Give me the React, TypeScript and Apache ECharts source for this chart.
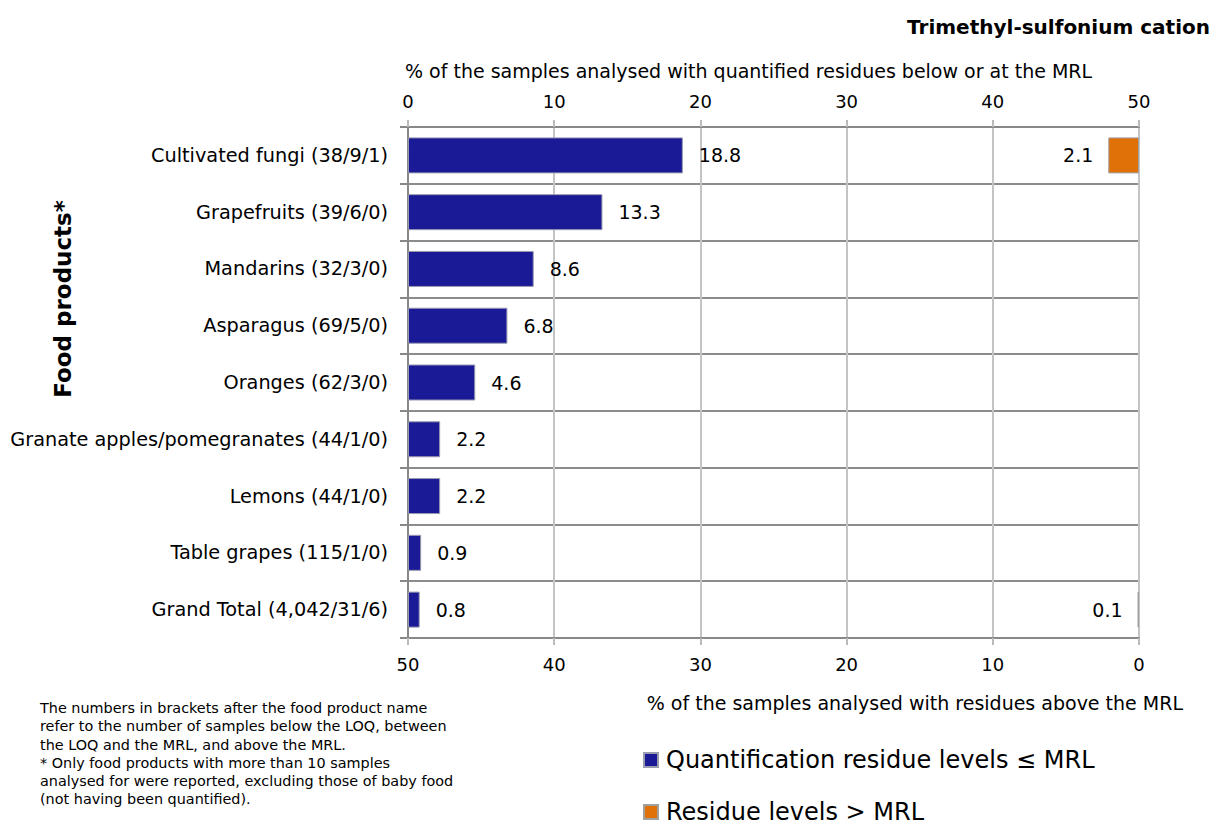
import React, { useEffect, useRef } from "react";
import * as echarts from "echarts";

const categories = [
  "Cultivated fungi (38/9/1)",
  "Grapefruits (39/6/0)",
  "Mandarins (32/3/0)",
  "Asparagus (69/5/0)",
  "Oranges (62/3/0)",
  "Granate apples/pomegranates (44/1/0)",
  "Lemons (44/1/0)",
  "Table grapes (115/1/0)",
  "Grand Total (4,042/31/6)",
];
const belowMRL = [18.8, 13.3, 8.6, 6.8, 4.6, 2.2, 2.2, 0.9, 0.8];
const aboveMRL: (number | null)[] = [2.1, null, null, null, null, null, null, null, 0.1];

const topAxisTitle = "% of the samples analysed with quantified residues below or at the MRL";
const bottomAxisTitle = "% of the samples analysed with residues above the MRL";
const chartTitle = "Trimethyl-sulfonium cation";
const yAxisTitle = "Food products*";
const legendBelow = "Quantification residue levels \u2264 MRL";
const legendAbove = "Residue levels > MRL";
const footnote = [
  "The numbers in brackets after the food product name",
  "refer to the number of samples below the LOQ, between",
  "the LOQ and the MRL, and above the MRL.",
  "* Only food products with more than 10 samples",
  "analysed for were reported, excluding those of baby food",
  "(not having been quantified).",
];

const FONT = "DejaVu Sans";

export default function App() {
  const ref = useRef<HTMLDivElement>(null);
  useEffect(() => {
    if (!ref.current) return;
    const chart = echarts.init(ref.current, undefined, { renderer: "svg" });
    const legendCommon = {
      orient: "horizontal",
      left: 643,
      padding: 0,
      itemWidth: 14,
      itemHeight: 14,
      itemGap: 8,
      icon: "rect",
      textStyle: { fontSize: 24, lineHeight: 24, color: "#000", fontFamily: FONT, padding: [0, 0, 0, 3] },
    };
    chart.setOption({
      animation: false,
      textStyle: { fontFamily: FONT },
      grid: { left: 408, right: 76, top: 127, bottom: 187, containLabel: false },
      legend: [
        { ...legendCommon, top: 748, data: [legendBelow] },
        { ...legendCommon, top: 800, data: [legendAbove] },
      ],
      xAxis: [
        {
          type: "value",
          position: "top",
          min: 0,
          max: 50,
          interval: 10,
          axisLine: { show: true, lineStyle: { color: "#888", width: 2 } },
          axisTick: { show: true, length: 7, lineStyle: { color: "#bbb", width: 2 } },
          axisLabel: { fontSize: 18, color: "#000", margin: 17 },
          splitLine: { show: true, lineStyle: { color: "#c4c4c4", width: 2 } },
        },
        {
          type: "value",
          position: "bottom",
          inverse: true,
          min: 0,
          max: 50,
          interval: 10,
          axisLine: { show: true, lineStyle: { color: "#888", width: 2 } },
          axisTick: { show: true, length: 7, lineStyle: { color: "#bbb", width: 2 } },
          axisLabel: { fontSize: 18, color: "#000", margin: 17 },
          splitLine: { show: false },
        },
      ],
      yAxis: {
        type: "category",
        inverse: true,
        data: categories,
        axisLine: { show: true, lineStyle: { color: "#888", width: 2 } },
        axisTick: { show: true, length: 8, lineStyle: { color: "#888", width: 2 } },
        axisLabel: { fontSize: 19.3, color: "#000", margin: 20 },
        splitLine: { show: true, lineStyle: { color: "#8c8c8c", width: 2 } },
      },
      series: [
        {
          name: legendBelow,
          type: "bar",
          xAxisIndex: 0,
          data: belowMRL,
          barWidth: 36,
          barGap: "-100%",
          itemStyle: { color: "#1a1a96", borderColor: "#9a9ab0", borderWidth: 1 },
          label: {
            show: true,
            position: "right",
            distance: 16,
            fontSize: 19,
            color: "#000",
            formatter: (p: any) => p.value.toFixed(1),
          },
        },
        {
          name: legendAbove,
          type: "bar",
          xAxisIndex: 1,
          data: aboveMRL,
          barWidth: 36,
          barGap: "-100%",
          itemStyle: { color: "#e07008", borderColor: "#a0a0a0", borderWidth: 1 },
          label: {
            show: true,
            position: "left",
            distance: 15,
            fontSize: 19,
            color: "#000",
            formatter: (p: any) => (p.value == null ? "" : p.value.toFixed(1)),
          },
        },
      ],
      graphic: [
        {
          type: "text",
          right: 5,
          top: 17,
          style: { text: chartTitle, font: `bold 20px ${FONT}`, fill: "#000" },
        },
        {
          type: "text",
          left: 405,
          top: 61,
          style: { text: topAxisTitle, font: `19px ${FONT}`, fill: "#000" },
        },
        {
          type: "text",
          right: 32,
          top: 693,
          style: { text: bottomAxisTitle, font: `19px ${FONT}`, fill: "#000" },
        },
        {
          type: "text",
          x: 63,
          y: 299,
          rotation: Math.PI / 2,
          style: {
            text: yAxisTitle,
            font: `bold 23px ${FONT}`,
            fill: "#000",
            align: "center",
            verticalAlign: "middle",
          },
        },
        {
          type: "text",
          left: 40,
          top: 699,
          style: { text: footnote.join("\n"), font: `14.4px ${FONT}`, lineHeight: 18.2, fill: "#000" },
        },
      ],
    });
    return () => chart.dispose();
  }, []);
  return <div ref={ref} style={{ width: 1215, height: 825, position: "absolute", left: 0, top: 0 }} />;
}
